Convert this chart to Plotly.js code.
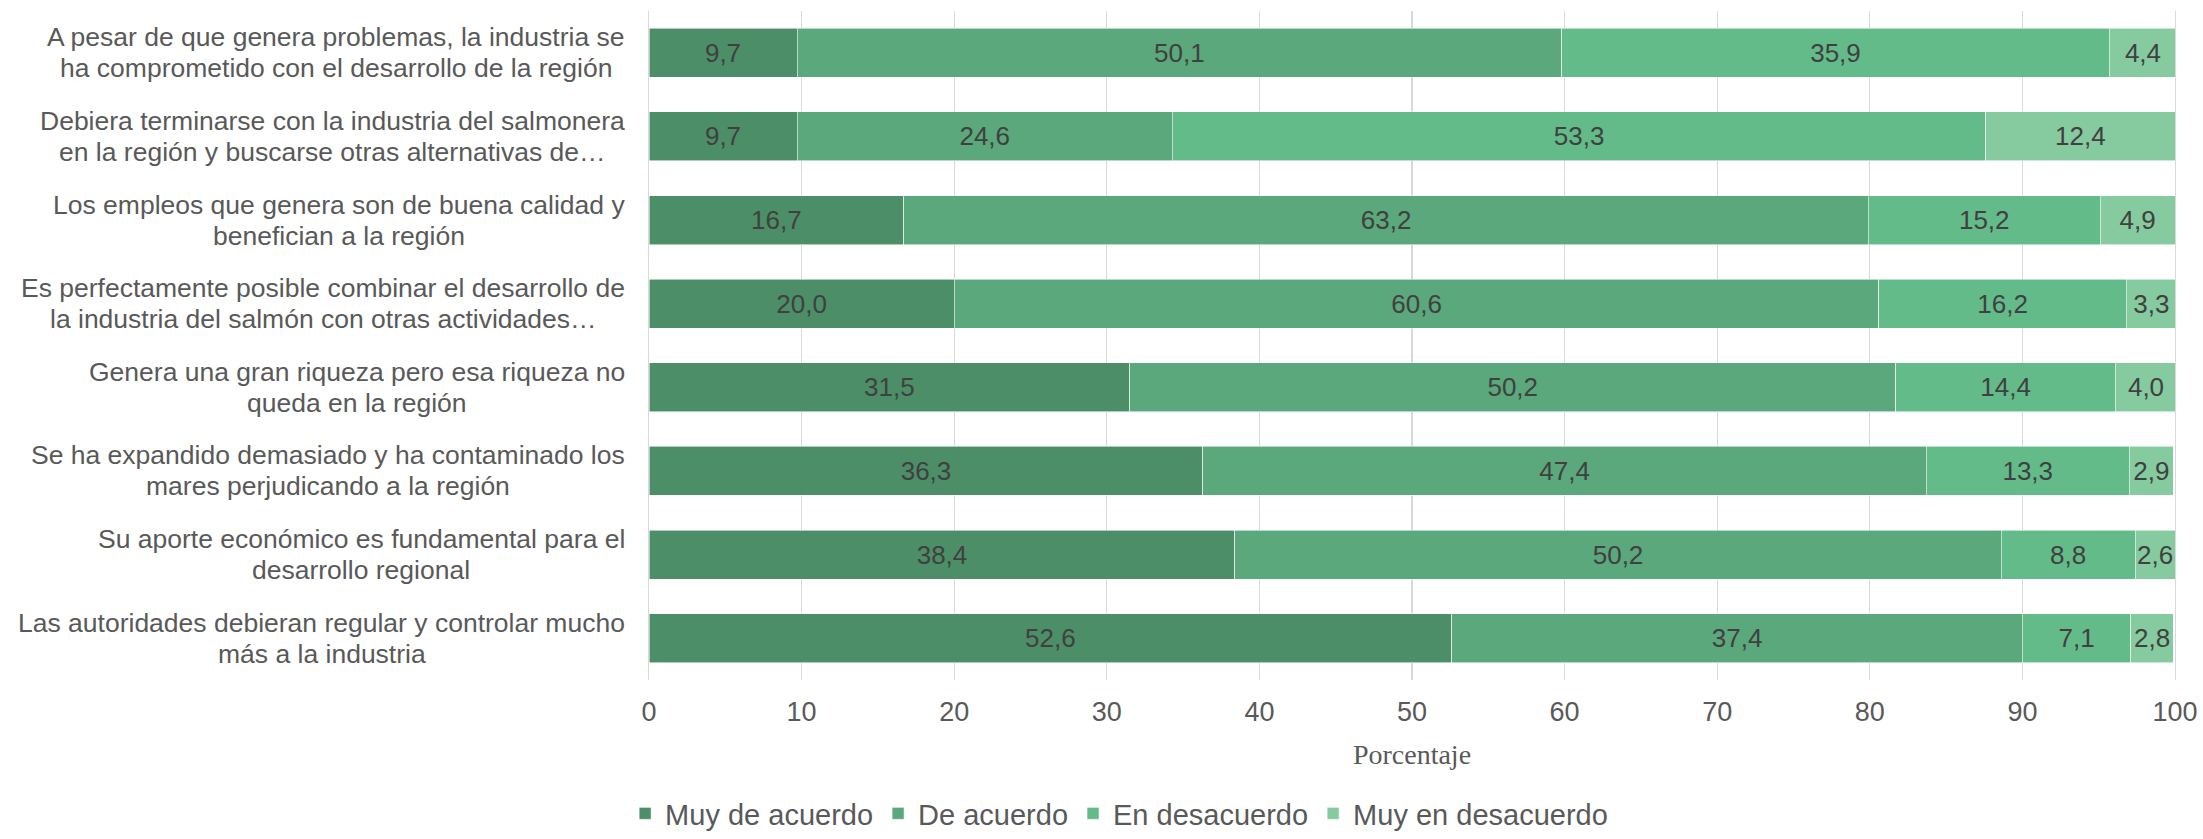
<!DOCTYPE html>
<html>
<head>
<meta charset="utf-8">
<script src="https://cdn.plot.ly/plotly-3.0.1.min.js"></script>
<style>html,body{margin:0;padding:0;background:#fff;}</style>
</head>
<body>
<div id="chart" style="width:2203px;height:839px;"></div>
<script>
// ---- Data ----
const labelLine1 = [
  "A pesar de que genera problemas, la industria se",
  "Debiera terminarse con la industria del salmonera",
  "Los empleos que genera son de buena calidad y",
  "Es perfectamente posible combinar el desarrollo de",
  "Genera una gran riqueza pero esa riqueza no",
  "Se ha expandido demasiado y ha contaminado los",
  "Su aporte económico es fundamental para el",
  "Las autoridades debieran regular y controlar mucho"
];
const labelLine2 = [
  "ha comprometido con el desarrollo de la región",
  "en la región y buscarse otras alternativas de…",
  "benefician a la región",
  "la industria del salmón con otras actividades…",
  "queda en la región",
  "mares perjudicando a la región",
  "desarrollo regional",
  "más a la industria"
];
const categories = labelLine1.map((l, i) => l + " " + labelLine2[i]);

const seriesNames = ["Muy de acuerdo", "De acuerdo", "En desacuerdo", "Muy en desacuerdo"];
const muyDeAcuerdo    = [9.7, 9.7, 16.7, 20.0, 31.5, 36.3, 38.4, 52.6];
const deAcuerdo       = [50.1, 24.6, 63.2, 60.6, 50.2, 47.4, 50.2, 37.4];
const enDesacuerdo    = [35.9, 53.3, 15.2, 16.2, 14.4, 13.3, 8.8, 7.1];
const muyEnDesacuerdo = [4.4, 12.4, 4.9, 3.3, 4.0, 2.9, 2.6, 2.8];
const seriesValues = [muyDeAcuerdo, deAcuerdo, enDesacuerdo, muyEnDesacuerdo];
const seriesColors = ["#4c8e68", "#5aa87b", "#64bb8a", "#85cb9f"];

const xTickVals = [0, 10, 20, 30, 40, 50, 60, 70, 80, 90, 100];
const xTitle = "Porcentaje";

// ---- Layout constants ----
const W = 2203, H = 839;
const M = {l: 649, r: 28, t: 11, b: 159};
const plotW = W - M.l - M.r;
const SANS = '"Liberation Sans", Arial, sans-serif';
const labelFontSize = 26.5;
const labelGap = 24;
const lineHalf = 15.5;

const traces = seriesNames.map((name, k) => ({
  type: "bar",
  orientation: "h",
  name: name,
  y: categories,
  x: seriesValues[k],
  marker: {color: seriesColors[k], line: {color: "rgba(255,255,255,0.7)", width: 0.8}},
  texttemplate: "%{x:.1f}",
  textposition: "inside",
  insidetextanchor: "middle",
  textangle: 0,
  constraintext: "none",
  textfont: {family: SANS, size: 26, color: "#404040"},
  hoverinfo: "skip"
}));

// measure label lines to center each two-line block like the original
const ctx = document.createElement("canvas").getContext("2d");
ctx.font = labelFontSize + 'px "Liberation Sans"';
const annotations = [];
categories.forEach((c, i) => {
  const w = Math.max(ctx.measureText(labelLine1[i]).width, ctx.measureText(labelLine2[i]).width);
  const cx = -(labelGap + w / 2) / plotW;
  [[labelLine1[i], lineHalf], [labelLine2[i], -lineHalf]].forEach(([t, s]) => {
    annotations.push({
      xref: "paper", yref: "y", x: cx, y: c, text: t,
      xanchor: "center", yanchor: "middle", yshift: s,
      showarrow: false, borderpad: 0,
      font: {family: SANS, size: labelFontSize, color: "#595959"}
    });
  });
});

const layout = {
  width: W, height: H,
  margin: M,
  paper_bgcolor: "#ffffff",
  plot_bgcolor: "#ffffff",
  barmode: "stack",
  bargap: 0.414,
  separators: ",.",
  showlegend: true,
  xaxis: {
    range: [0, 100],
    tickvals: xTickVals,
    showgrid: true,
    gridcolor: "#d9d9d9",
    gridwidth: 1.3,
    zeroline: false,
    showline: false,
    ticks: "",
    ticklabelstandoff: 13,
    tickfont: {family: SANS, size: 27, color: "#595959"},
    title: {text: xTitle, font: {family: '"Liberation Serif", "Times New Roman", serif', size: 28, color: "#595959"}, standoff: 18},
    automargin: false,
    fixedrange: true
  },
  yaxis: {
    type: "category",
    categoryorder: "array",
    categoryarray: categories,
    autorange: "reversed",
    showticklabels: false,
    showgrid: false,
    zeroline: false,
    showline: true,
    mirror: true,
    linecolor: "#d9d9d9",
    linewidth: 1.3,
    ticks: "",
    automargin: false,
    fixedrange: true
  },
  legend: {
    orientation: "h",
    xref: "container", yref: "container",
    x: 0.508, xanchor: "center",
    y: 0, yanchor: "bottom",
    traceorder: "normal",
    font: {family: SANS, size: 29, color: "#595959"},
    bgcolor: "rgba(0,0,0,0)"
  },
  annotations: annotations
};

Plotly.newPlot("chart", traces, layout, {displayModeBar: false, staticPlot: true});
</script>
</body>
</html>
